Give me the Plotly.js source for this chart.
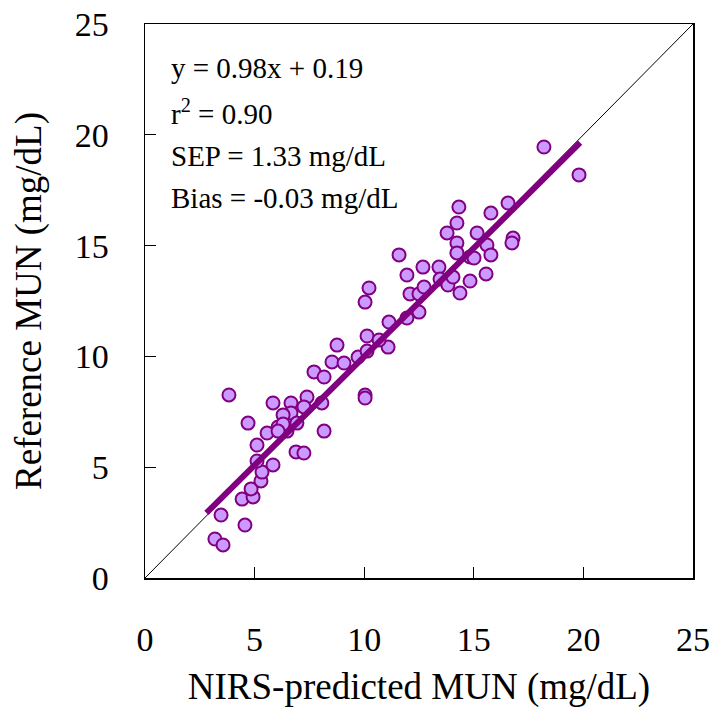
<!DOCTYPE html>
<html>
<head>
<meta charset="utf-8">
<script src="https://cdn.plot.ly/plotly-3.0.1.min.js"></script>
<style>html,body{margin:0;padding:0;background:#fff;}#chart{width:710px;height:720px;}</style>
</head>
<body>
<div id="chart"></div>
<script>
// NIRS-predicted MUN (x) vs reference MUN (y), mg/dL
const predicted = [3.19,3.56,3.47,4.56,4.43,4.93,4.84,5.29,5.34,5.11,5.84,5.11,6.89,7.25,4.70,3.83,5.84,6.66,6.66,6.30,6.07,5.57,6.48,6.30,6.07,6.93,7.39,7.25,8.07,8.17,7.71,8.17,8.53,8.76,9.08,9.72,10.13,11.09,10.04,10.04,10.13,10.68,11.13,11.95,12.50,10.04,10.22,12.09,12.50,12.73,11.95,12.68,13.41,13.46,13.82,14.05,14.37,14.83,15.56,11.59,14.23,14.23,14.83,15.01,15.60,15.78,13.78,15.15,14.23,14.32,15.78,16.56,16.79,16.74,18.20,19.80];
const reference = [1.76,1.49,2.84,2.39,3.56,3.66,4.02,4.38,4.78,5.28,5.10,6.00,5.69,5.64,6.99,8.26,7.90,7.90,7.45,7.36,6.81,6.54,6.63,6.95,6.63,6.99,8.17,7.72,7.90,6.63,9.30,9.07,9.75,10.51,9.70,9.97,10.24,10.42,8.26,8.12,10.92,10.74,11.55,11.73,12.00,12.45,13.09,12.82,12.82,13.13,13.67,14.03,14.03,13.49,13.22,13.58,12.86,13.40,13.72,14.58,15.12,14.67,14.49,14.44,15.03,14.58,15.57,15.57,16.02,16.74,16.47,16.92,15.34,15.12,19.45,18.19];
const slope = 0.98, intercept = 0.19;
const fitX = [2.8, 19.85];
const identity = [0, 25];
const statLines = ["y = 0.98x + 0.19", "r<sup>2</sup> = 0.90", "SEP = 1.33 mg/dL", "Bias = -0.03 mg/dL"];
const tickVals = [0, 5, 10, 15, 20, 25];

const fitY = fitX.map(v => slope * v + intercept);
const FONT = "Liberation Serif, 'Times New Roman', Times, serif";

const traces = [
  {x: identity, y: identity, mode: 'lines', line: {color: '#000', width: 1}, hoverinfo: 'skip'},
  {x: predicted, y: reference, mode: 'markers',
   marker: {size: 13, color: '#cc99ff', line: {color: '#800080', width: 2}}},
  {x: fitX, y: fitY, mode: 'lines', line: {color: '#800080', width: 6}}
];

const statY = [0.921, 0.841, 0.762, 0.686];
const annotations = statLines.map((t, i) => ({
  xref: 'paper', yref: 'paper', x: 0.043, y: statY[i], xanchor: 'left', yanchor: 'middle',
  text: t, showarrow: false, font: {family: FONT, size: 29, color: '#000'}
}));

const axisCommon = {
  range: [0, 25], tickvals: tickVals, ticks: 'inside', ticklen: 11, tickwidth: 1, tickcolor: '#000',
  showline: true, linecolor: '#000', linewidth: 1.5, mirror: true, showgrid: false, zeroline: false,
  tickfont: {family: FONT, size: 34, color: '#000'}, fixedrange: true
};

const layout = {
  width: 710, height: 720,
  margin: {l: 145, r: 17, t: 24, b: 142},
  paper_bgcolor: '#fff', plot_bgcolor: '#fff',
  showlegend: false,
  font: {family: FONT, color: '#000'},
  xaxis: Object.assign({}, axisCommon, {
    ticklabelstandoff: 31,
    title: {text: 'NIRS-predicted MUN (mg/dL)', font: {family: FONT, size: 37, color: '#000'}, standoff: 16}
  }),
  yaxis: Object.assign({}, axisCommon, {
    ticklabelstandoff: 28,
    title: {text: 'Reference MUN (mg/dL)', font: {family: FONT, size: 37, color: '#000'}, standoff: 22}
  }),
  annotations: annotations
};

Plotly.newPlot('chart', traces, layout, {staticPlot: true, displayModeBar: false});
</script>
</body>
</html>
